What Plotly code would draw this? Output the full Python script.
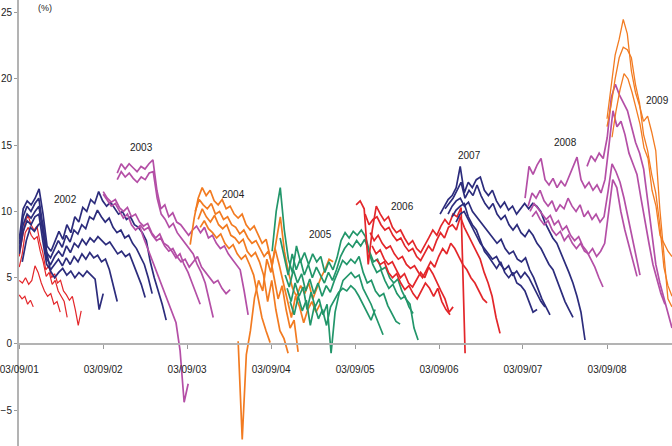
import numpy as np
import pandas as pd
import plotly.graph_objects as go

BASE = pd.Timestamp("2001-09-03")
SPAN_YEARS = 7.774

COLORS = {
    "2001": "#e3262a", "2002": "#2c2c7c", "2003": "#b44fa6", "2004": "#f27b21",
    "2005": "#22966a", "2006": "#e3262a", "2007": "#2c2c7c", "2008": "#b44fa6",
    "2009": "#f27b21",
}
WIDTHS = {"2001": 1.2, "2009": 1.3}

# ---- series values (%); x extents in years after 03/09/01 ----
red01_a = [6.6, 7.8, 9.2, 9.7, 9.0, 8.6, 8.9, 7.7, 6.9, 5.6, 5.9, 5.0, 5.3, 4.6, 4.8, 4.0, 3.7, 3.3, 3.6, 2.6, 1.4, 2.5]
red01_b = [5.8, 6.8, 8.4, 8.8, 8.2, 7.9, 8.1, 7.0, 6.2, 5.1, 5.4, 4.5, 4.8, 4.0, 3.6, 3.2, 2.0]
red01_c = [4.8, 4.6, 5.0, 4.5, 4.8, 5.9, 5.4, 4.6, 4.0, 3.6, 3.8, 3.0, 3.2, 2.4]
red01_d = [3.7, 3.4, 3.6, 3.0, 3.3, 2.8]

navy02_a = [7.9, 10.2, 10.8, 10.5, 11.0, 11.7, 9.8, 7.4, 7.0, 7.8, 8.5, 7.9, 9.0, 8.4, 9.6, 9.2, 10.3, 10.0, 10.9,
            10.6, 11.5, 10.8, 10.4, 10.7, 10.2, 9.8, 10.0, 9.4, 9.6, 9.0, 8.8, 8.4, 7.8, 6.2, 5.0, 4.0, 3.0, 1.8]
navy02_b = [7.5, 9.6, 10.4, 10.0, 10.6, 11.0, 9.0, 6.9, 6.5, 7.2, 7.8, 7.3, 8.2, 7.7, 8.6, 8.3, 9.0, 8.7, 9.6, 9.4,
            10.1, 9.6, 9.2, 9.5, 8.8, 8.4, 8.6, 8.0, 8.2, 7.6, 7.2, 6.6, 6.0, 5.0, 3.8]
navy02_c = [7.1, 9.0, 9.8, 9.5, 10.0, 10.4, 8.4, 6.4, 6.0, 6.6, 7.0, 6.6, 7.4, 6.9, 7.6, 7.3, 7.9, 7.5, 8.0, 7.7,
            8.1, 7.8, 7.5, 7.7, 7.2, 6.8, 7.0, 6.6, 6.8, 6.0, 5.3, 4.5, 3.5]
navy02_d = [6.8, 8.5, 9.3, 9.0, 9.6, 9.8, 7.8, 6.0, 5.6, 6.0, 6.4, 5.9, 6.5, 6.0, 6.6, 6.2, 6.8, 6.4, 6.9, 6.5,
            6.7, 6.2, 6.4, 5.6, 4.5, 3.2]
navy02_e = [6.2, 7.8, 8.8, 8.5, 9.0, 9.2, 7.0, 5.5, 5.0, 5.4, 5.7, 5.2, 5.5, 5.0, 5.4, 5.1, 5.5, 5.2, 4.9, 2.6, 3.8]

purple03_a = [12.9, 13.6, 13.2, 13.6, 13.3, 13.0, 13.4, 13.2, 13.6, 13.9, 11.6, 10.2, 10.5, 9.6, 9.9, 9.2, 9.0,
              8.6, 8.2, 8.6, 8.9, 8.4, 8.8, 8.0, 8.2, 7.6, 7.2, 7.4, 6.8, 6.4, 6.0, 5.6, 4.0, 2.2]
purple03_b = [12.4, 13.0, 12.6, 12.9, 12.5, 12.2, 12.6, 12.4, 12.9, 13.0, 11.0, 9.8, 9.4, 8.8, 9.1, 8.4, 8.0,
              7.6, 7.2, 6.8, 6.0, 5.4, 4.6, 3.4, 2.0]
purple03_c = [11.5, 11.0, 10.7, 10.9, 10.3, 10.0, 10.3, 9.6, 9.8, 9.2, 8.9, 9.1, 8.4, 8.0, 8.3, 7.6, 7.4, 7.0,
              6.5, 6.8, 6.0, 5.4, 4.6, 3.8, 3.0]
purple03_d = [11.3, 10.8, 10.4, 10.6, 10.0, 9.5, 9.8, 9.0, 8.6, 8.9, 8.0, 7.2, 6.4, 5.6, 4.8, 4.0, 3.2, 2.5,
              1.6, -0.5, -4.4, -3.0]
purple03_e = [9.0, 8.6, 8.8, 8.2, 7.8, 8.0, 7.4, 7.0, 7.2, 6.6, 6.2, 6.4, 5.8, 6.2, 6.6, 5.8, 5.4, 5.0, 4.6,
              4.8, 4.2, 3.8, 4.1]

orange04_a = [7.5, 9.5, 11.0, 11.8, 11.2, 11.6, 10.8, 10.5, 10.9, 10.2, 10.4, 9.8, 9.5, 9.8, 9.0, 8.6, 8.9,
              8.2, 7.6, 7.9, 6.6, 5.0, 3.4, 4.4, 2.6, 1.2, 1.8, -0.6]
orange04_b = [10.0, 10.9, 10.5, 10.2, 10.6, 9.8, 10.0, 9.4, 9.6, 9.0, 8.8, 8.3, 8.6, 8.0, 7.6, 7.8, 7.2, 6.6,
              7.0, 6.0, 7.8, 9.6, 7.0, 5.4, 4.2, 3.6, 4.4, 3.8, 4.6, 3.4, 4.2, 5.0, 5.6, 6.4, 6.2]
orange04_c = [9.4, 10.2, 9.6, 9.2, 9.7, 9.0, 8.7, 9.0, 8.2, 8.0, 7.6, 7.9, 7.0, 6.6, 6.9, 6.2, 5.2, 3.2, 4.8,
              2.6, 1.0, 0.4, -0.7]
orange04_d = [8.8, 9.3, 8.7, 8.4, 8.0, 8.3, 7.6, 7.2, 7.5, 6.8, 6.4, 6.7, 6.0, 5.2, 3.6, 2.0, 1.0, 0.1]
orange04_e = [0.2, -7.2, -0.8, 1.0, 3.5, 4.8, 4.0, 6.4, 5.4, 7.2, 6.0, 4.6, 3.2, 2.0, 3.6, 2.8, 1.6, 2.6, 3.2,
              2.4, 3.0]

green05_a = [7.0, 10.0, 11.8, 8.6, 6.4, 5.4, 7.4, 6.2, 6.9, 6.0, 6.8, 6.2, 6.6, 5.4, 6.2, 5.6, 6.5, 7.8, 8.4,
             8.0, 8.5, 8.2, 8.6, 8.1, 7.0, 6.2, 6.4, 5.6, 5.8, 5.0, 4.6, 4.9, 4.0, 3.4, 3.0, 1.2, 0.3]
green05_b = [8.0, 6.6, 5.2, 6.8, 5.6, 6.4, 5.2, 6.0, 5.0, 5.8, 5.2, 4.6, 5.4, 4.8, 5.6, 6.6, 7.2, 7.6, 7.3,
             7.8, 7.4, 7.9, 7.0, 6.0, 5.4, 5.6, 4.8, 4.2, 4.5, 3.8, 3.4, 3.6, 2.8, 2.3]
green05_c = [5.2, 4.3, 5.6, 4.6, 5.3, 4.0, 4.9, 3.8, 4.6, 3.6, 4.4, 3.9, 4.8, 5.6, 6.3, 6.0, 6.4, 6.1, 6.6,
             5.4, 4.6, 4.8, 4.0, 3.6, 3.8, 2.9, 2.3, 1.7, 1.5]
green05_d = [4.2, 3.2, 4.6, 3.6, 4.3, 2.6, 3.9, 2.8, 3.4, 2.2, 3.0, -0.7, 2.4, 3.8, 4.8, 5.1, 5.4, 5.0, 5.2,
             4.2, 3.6, 3.0, 2.2, 1.4, 0.7]
green05_e = [3.2, 2.2, 3.6, 2.5, 3.3, 1.4, 2.9, 1.9, 2.6, 1.4, 2.8, 3.4, 3.9, 4.2, 4.0, 4.4, 4.1, 3.6, 3.0,
             2.4, 1.8, 2.6]

red06_a = [10.5, 10.8, 10.2, 6.0, 8.6, 10.4, 9.8, 9.3, 9.6, 8.8, 8.4, 8.6, 8.0, 7.5, 7.8, 7.2, 6.9, 7.4, 8.0,
           8.6, 8.2, 8.9, 9.4, 9.0, 9.8, 9.6, 10.3, -0.7]
red06_b = [9.8, 9.0, 9.4, 9.6, 9.0, 8.6, 8.8, 8.2, 7.8, 8.0, 7.4, 7.0, 7.2, 6.6, 6.3, 6.8, 7.4, 7.0, 7.8, 8.4,
           8.0, 8.8, 9.0, 8.6, 9.6, 8.8, 8.2, 7.6, 7.0, 6.4, 5.4, 4.6, 3.6, 2.0, 0.8]
red06_c = [8.4, 7.8, 8.2, 7.6, 7.2, 7.4, 6.8, 6.4, 6.6, 6.0, 5.7, 5.9, 5.4, 5.0, 5.6, 6.2, 5.8, 6.6, 7.2, 6.8,
           7.6, 7.2, 6.6, 6.0, 5.6, 5.0, 4.6, 4.0, 3.4, 3.1]
red06_d = [7.4, 6.8, 7.1, 6.4, 6.0, 6.2, 5.6, 5.0, 5.3, 4.6, 4.3, 4.8, 5.4, 5.0, 5.8, 5.3, 4.6, 4.0, 3.4, 2.4, 2.8]
red06_e = [6.4, 6.0, 6.2, 5.4, 5.0, 5.3, 4.6, 4.1, 4.4, 3.8, 3.4, 4.0, 4.6, 4.2, 3.6, 4.2, 3.2, 2.6, 2.2]

navy07_a = [9.8, 10.4, 10.9, 11.2, 11.8, 13.4, 11.4, 12.2, 11.8, 12.4, 12.6, 11.6, 11.2, 11.6, 10.8, 10.3, 10.7,
            10.1, 10.4, 9.8, 10.2, 10.6, 10.2, 10.6, 10.4, 10.0, 9.2, 8.6, 8.0, 7.6, 6.9, 6.2, 5.4, 4.6, 3.6, 2.4, 0.3]
navy07_b = [10.2, 10.6, 11.0, 11.6, 12.2, 11.0, 11.6, 11.2, 12.0, 11.2, 10.6, 10.2, 10.6, 9.8, 9.4, 9.7, 9.0,
            8.6, 9.0, 8.4, 8.1, 8.6, 8.2, 7.6, 7.2, 6.6, 6.0, 5.6, 4.8, 4.0, 3.2, 2.6, 2.0]
navy07_c = [9.8, 10.4, 10.8, 11.0, 10.4, 10.7, 10.0, 9.6, 9.2, 8.8, 8.4, 8.0, 7.6, 7.9, 7.2, 6.8, 7.0, 6.4,
            6.2, 6.5, 5.6, 5.0, 4.2, 3.4, 2.8, 2.2]
navy07_d = [9.6, 10.1, 10.4, 10.6, 9.6, 9.0, 8.6, 7.8, 7.0, 6.6, 6.1, 5.7, 6.2, 5.4, 5.0, 5.4, 4.6, 4.4, 4.0,
            3.2, 2.4, 2.6]
navy07_e = [9.2, 9.8, 10.0, 9.4, 8.8, 8.2, 7.6, 7.2, 6.8, 6.4, 6.6, 6.0, 5.6, 5.9, 5.2, 5.5, 5.0, 5.4, 5.0,
            4.4, 3.8, 3.2, 2.8]

purple08_a = [13.4, 14.2, 13.8, 14.4, 14.0, 15.6, 18.6, 19.6, 18.8, 18.2, 17.6, 16.4, 15.2, 14.4, 13.2, 10.8,
              8.2, 6.0, 4.6, 3.4, 2.4, 1.2]
purple08_b = [11.0, 13.4, 12.8, 13.5, 14.0, 12.4, 12.0, 12.5, 11.8, 12.3, 11.9, 12.6, 13.4, 14.1, 12.4, 11.8,
              12.2, 11.6, 12.0, 11.4, 12.4, 15.0, 17.6, 16.4, 16.8, 15.8, 14.4, 13.6, 12.8, 11.0, 9.2, 7.6, 6.0,
              4.8, 3.8, 3.0]
purple08_c = [10.4, 11.4, 11.0, 11.6, 10.8, 10.4, 10.8, 10.0, 10.5, 10.2, 11.0, 10.4, 10.0, 10.5, 9.6, 10.0,
              9.4, 9.8, 9.2, 9.6, 11.5, 13.6, 13.0, 12.2, 11.0, 9.6, 8.2, 6.8, 5.2]
purple08_d = [10.0, 10.6, 10.2, 9.8, 9.4, 9.7, 9.0, 9.3, 8.6, 8.9, 8.2, 7.8, 8.1, 7.4, 7.0, 6.4, 5.8, 5.0, 4.3]
purple08_e = [9.6, 10.0, 9.4, 9.0, 9.3, 8.6, 8.2, 8.5, 7.8, 8.2, 7.6, 7.2, 7.6, 7.0, 6.8, 7.2, 6.6, 7.0, 7.6,
              10.0, 12.4, 11.8, 10.0, 8.6, 7.4, 6.2, 5.1]

orange09_a = [17.0, 19.2, 21.8, 23.0, 24.5, 23.4, 20.6, 19.0, 18.0, 16.8, 17.2, 16.0, 14.6, 10.2, 7.0, 3.4, 2.8]
orange09_b = [16.4, 18.0, 20.0, 21.6, 22.4, 22.2, 21.6, 19.6, 18.2, 15.8, 14.6, 12.8, 11.4, 9.0, 5.8, 4.4, 3.6]
orange09_c = [15.6, 17.6, 19.2, 20.4, 20.0, 19.0, 17.8, 16.6, 14.8, 14.0, 11.6, 10.4, 8.2, 7.6, 7.0, 6.6]

SERIES = [
    ("2001", 0.0, 0.738, red01_a), ("2001", 0.0, 0.571, red01_b),
    ("2001", 0.0, 0.488, red01_c), ("2001", 0.0, 0.167, red01_d),
    ("2002", 0.0, 1.75, navy02_a), ("2002", 0.0, 1.583, navy02_b),
    ("2002", 0.0, 1.5, navy02_c), ("2002", 0.0, 1.167, navy02_d),
    ("2002", 0.036, 1.0, navy02_e),
    ("2003", 1.167, 2.726, purple03_a), ("2003", 1.167, 2.31, purple03_b),
    ("2003", 1.0, 2.155, purple03_c), ("2003", 1.0, 2.012, purple03_d),
    ("2003", 1.44, 2.512, purple03_e),
    ("2004", 2.036, 3.321, orange04_a), ("2004", 2.095, 3.738, orange04_b),
    ("2004", 2.131, 3.202, orange04_c), ("2004", 2.155, 2.988, orange04_d),
    ("2004", 2.607, 3.583, orange04_e),
    ("2005", 3.012, 4.75, green05_a), ("2005", 3.107, 4.69, green05_b),
    ("2005", 3.167, 4.536, green05_c), ("2005", 3.19, 4.333, green05_d),
    ("2005", 3.226, 4.238, green05_e),
    ("2006", 4.012, 5.31, red06_a), ("2006", 4.119, 5.726, red06_b),
    ("2006", 4.179, 5.571, red06_c), ("2006", 4.202, 5.167, red06_d),
    ("2006", 4.25, 5.131, red06_e),
    ("2007", 5.012, 6.738, navy07_a), ("2007", 5.071, 6.595, navy07_b),
    ("2007", 5.107, 6.321, navy07_c), ("2007", 5.155, 6.167, navy07_d),
    ("2007", 5.202, 6.262, navy07_e),
    ("2008", 6.762, 7.774, purple08_a), ("2008", 6.024, 7.69, purple08_b),
    ("2008", 6.06, 7.393, purple08_c), ("2008", 6.083, 6.952, purple08_d),
    ("2008", 6.107, 7.357, purple08_e),
    ("2009", 7.0, 7.774, orange09_a), ("2009", 7.0, 7.774, orange09_b),
    ("2009", 7.06, 7.774, orange09_c),
]

YEAR_LABELS = ["2002", "2003", "2004", "2005", "2006", "2007", "2008", "2009"]
LABEL_T = [0.548, 1.452, 2.548, 3.583, 4.56, 5.357, 6.5, 7.607]
LABEL_Y = [10.9, 14.8, 11.3, 8.3, 10.4, 14.2, 15.2, 18.4]

TICK_YEARS = list(range(8))
Y_TICKS = [-5, 0, 5, 10, 15, 20, 25]


def to_date(years):
    return BASE + pd.to_timedelta(np.asarray(years) * 365.25, unit="D")


fig = go.Figure()
for grp, t0, t1, vals in SERIES:
    xs = to_date(np.linspace(t0, t1, len(vals)))
    fig.add_trace(go.Scatter(x=xs, y=vals, mode="lines",
                             line=dict(color=COLORS[grp], width=WIDTHS.get(grp, 1.7)),
                             showlegend=False, hoverinfo="skip"))

FONT = "Liberation Sans, Arial, sans-serif"
for lab, t, y in zip(YEAR_LABELS, LABEL_T, LABEL_Y):
    fig.add_annotation(x=to_date(t), y=y, text=lab, showarrow=False,
                       font=dict(size=10, color="#222222", family=FONT))

fig.add_annotation(xref="paper", yref="paper", x=0.026, y=1.0, yanchor="top", yshift=-1,
                   text="(%)", showarrow=False,
                   font=dict(size=9, color="#222222", family=FONT))

Y0, Y1 = -7.70, 25.96
tickdates = [BASE + pd.DateOffset(years=k) for k in TICK_YEARS]

fig.update_layout(
    width=672, height=446,
    margin=dict(l=19, r=0, t=0, b=0),
    paper_bgcolor="white", plot_bgcolor="white",
    font=dict(family=FONT, size=10, color="#222222"),
    xaxis=dict(
        type="date",
        range=[BASE - pd.Timedelta(days=1), to_date(SPAN_YEARS)],
        tickvals=tickdates,
        ticktext=[d.strftime("%d/%m/%y") for d in tickdates],
        anchor="free", position=(0 - Y0) / (Y1 - Y0),
        showline=True, linecolor="#b3b3b3", linewidth=2,
        ticks="outside", ticklen=4, tickcolor="#9a9a9a", tickwidth=1,
        ticklabelstandoff=12, ticklabeloverflow="allow",
        showgrid=False, zeroline=False, automargin=False,
        tickfont=dict(size=10, color="#222222"),
    ),
    yaxis=dict(
        range=[Y0, Y1], tickvals=Y_TICKS,
        showline=True, linecolor="#b3b3b3", linewidth=2,
        ticks="outside", ticklen=3, tickcolor="#9a9a9a",
        showgrid=False, zeroline=False, automargin=False,
        tickfont=dict(size=10, color="#222222"),
    ),
)

fig.write_html("out.html")
